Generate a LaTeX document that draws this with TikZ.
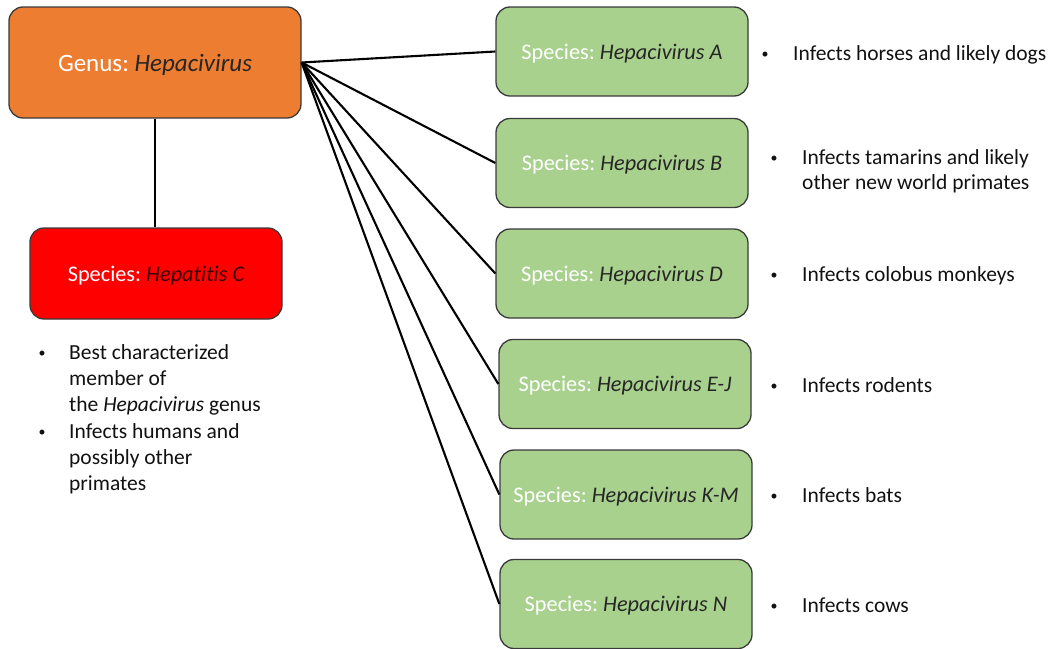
\documentclass[tikz,border=0pt]{standalone}
\usepackage{fontspec}
\setmainfont[Ligatures={NoCommon}]{Carlito}
\frenchspacing
\definecolor{orangefill}{HTML}{ED7D31}
\definecolor{greenfill}{HTML}{A9D18E}
\definecolor{redfill}{HTML}{FF0000}
\definecolor{edge}{HTML}{3A3A3A}
\definecolor{darktext}{HTML}{262626}
\definecolor{darkred}{HTML}{3A0000}
\definecolor{bodytext}{HTML}{111111}
\tikzset{
  box/.style={draw=edge, line width=1.3pt, rounded corners=14pt, inner sep=0pt,
    font=\fontsize{22.3}{26}\selectfont\frenchspacing, text height=20pt, text depth=5pt},
  genbox/.style={box, fill=orangefill, minimum width=292pt, minimum height=111pt,
    font=\fontsize{25}{30}\selectfont\frenchspacing, text height=22pt, text depth=5pt},
  redbox/.style={box, fill=redfill, minimum width=252pt, minimum height=91pt},
  spbox/.style={box, fill=greenfill, minimum width=252pt, minimum height=89pt},
  conn/.style={line width=2.1pt, black},
  txt/.style={anchor=base west, inner sep=0pt, text=bodytext, font=\fontsize{21.5}{26}\selectfont},
  bul/.style={anchor=base, inner sep=0pt, text=bodytext, font=\fontsize{14}{16}\selectfont}
}
\newcommand{\lt}[1]{\textcolor{white}{#1}}
\newcommand{\dk}[1]{\textcolor{darktext}{\itshape #1}}
\newcommand{\bu}{\raisebox{2pt}{•}}
\begin{document}
\begin{tikzpicture}[x=1pt,y=-1pt]
\useasboundingbox (0,0) rectangle (1057,648);
% boxes
\node[genbox] (g) at (155,62.5) {\lt{Genus:} \dk{Hepacivirus}};
\node[redbox] (c) at (156,273.5) {\lt{Species:} \textcolor{darkred}{\itshape Hepatitis C}};
\node[spbox] (a) at (622,51.5) {\lt{Species:} \dk{Hepacivirus A}};
\node[spbox] (b) at (622,163) {\lt{Species:} \dk{Hepacivirus B}};
\node[spbox] (d) at (622,273.5) {\lt{Species:} \dk{Hepacivirus D}};
\node[spbox] (ej) at (625,384) {\lt{Species:} \dk{Hepacivirus E-J}};
\node[spbox] (km) at (626,494.5) {\lt{Species:} \dk{Hepacivirus K-M}};
\node[spbox] (n) at (626,604) {\lt{Species:} \dk{Hepacivirus N}};
% connectors
\draw[conn] (g.south) -- (g.south |- c.north);
\foreach \t in {a,b,d,ej,km,n} \draw[conn] (g.east) -- (\t.west);
% left bullets
\node[bul] (lb1) at (42,359) {\bu};
\node[txt] (l1) at (69,359) {Best characterized};
\node[txt] (l2) at (69,385) {member of};
\node[txt] (l3) at (69,411) {the \textit{Hepacivirus} genus};
\node[bul] (lb2) at (42,438) {\bu};
\node[txt] (l4) at (69,438) {Infects humans and};
\node[txt] (l5) at (69,464) {possibly other};
\node[txt] (l6) at (69,490) {primates};
% right bullets
\node[bul] (ba) at (765,60) {\bu};
\node[txt] (ta) at (793,60) {Infects horses and likely dogs};
\node[bul] (bb) at (774,164) {\bu};
\node[txt] (tb1) at (802,164) {Infects tamarins and likely};
\node[txt] (tb2) at (802,189) {other new world primates};
\node[bul] (bd) at (774,281) {\bu};
\node[txt] (td) at (802,281) {Infects colobus monkeys};
\node[bul] (be) at (774,392) {\bu};
\node[txt] (te) at (802,392) {Infects rodents};
\node[bul] (bk) at (774,502) {\bu};
\node[txt] (tk) at (802,502) {Infects bats};
\node[bul] (bn) at (774,612) {\bu};
\node[txt] (tn) at (802,612) {Infects cows};
\end{tikzpicture}
\end{document}
